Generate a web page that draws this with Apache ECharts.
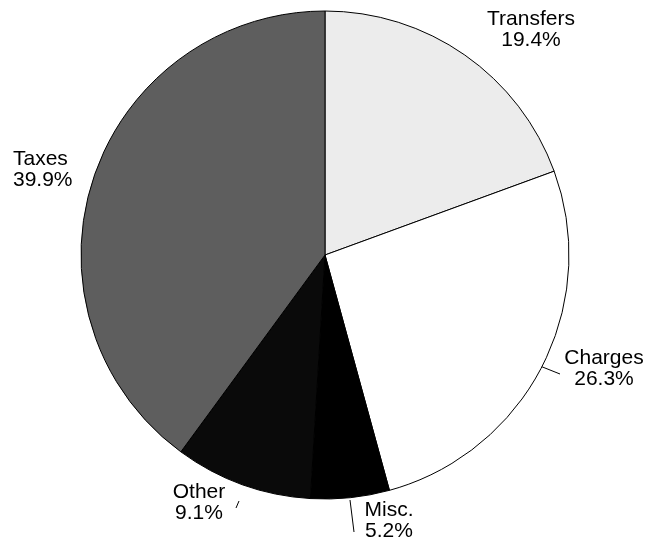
<!DOCTYPE html>
<html>
<head>
<meta charset="utf-8">
<script src="https://cdn.jsdelivr.net/npm/echarts@6/dist/echarts.min.js"></script>
<style>html,body{margin:0;padding:0;background:#fff}#c{width:646px;height:541px}</style>
</head>
<body>
<div id="c"></div>
<script>
var categories = ['Transfers', 'Charges', 'Misc.', 'Other', 'Taxes'];
var shares = [19.4, 26.3, 5.2, 9.1, 39.9];
var sliceColors = ['#ececec', '#ffffff', '#000000', '#0a0a0a', '#5e5e5e'];

// label placement (pixels) and leader lines
var labelPos = [
  {x: 531, y: 30, align: 'center', line: null},
  {x: 604, y: 369, align: 'center', line: [[540, 366], [560, 374]]},
  {x: 389, y: 521, align: 'center', line: [[350, 500], [354, 532]]},
  {x: 199, y: 503, align: 'center', line: [[239, 501], [236, 508]]},
  {x: 13, y: 170, align: 'left', line: null}
];

var data = categories.map(function (n, i) {
  return {
    name: n,
    value: shares[i],
    itemStyle: {color: sliceColors[i]},
    labelLine: {show: labelPos[i].line !== null}
  };
});

var chart = echarts.init(document.getElementById('c'), null, {renderer: 'canvas'});
chart.setOption({
  animation: false,
  backgroundColor: '#fff',
  series: [{
    type: 'pie',
    center: [325, 255],
    radius: 244,
    startAngle: 90,
    clockwise: true,
    avoidLabelOverlap: false,
    emphasis: {disabled: true},
    itemStyle: {borderColor: '#000', borderWidth: 1},
    label: {
      show: true,
      position: 'outside',
      fontFamily: 'Liberation Sans, Arial, sans-serif',
      fontSize: 21,
      lineHeight: 21,
      color: '#000',
      formatter: function (p) { return p.name + '\n' + p.value.toFixed(1) + '%'; }
    },
    labelLine: {show: true, lineStyle: {color: '#000', width: 1}},
    labelLayout: function (p) {
      var L = labelPos[p.dataIndex];
      var o = {x: L.x, y: L.y, align: L.align, verticalAlign: 'middle'};
      if (L.line) o.labelLinePoints = L.line;
      return o;
    },
    data: data
  }]
});
</script>
</body>
</html>
